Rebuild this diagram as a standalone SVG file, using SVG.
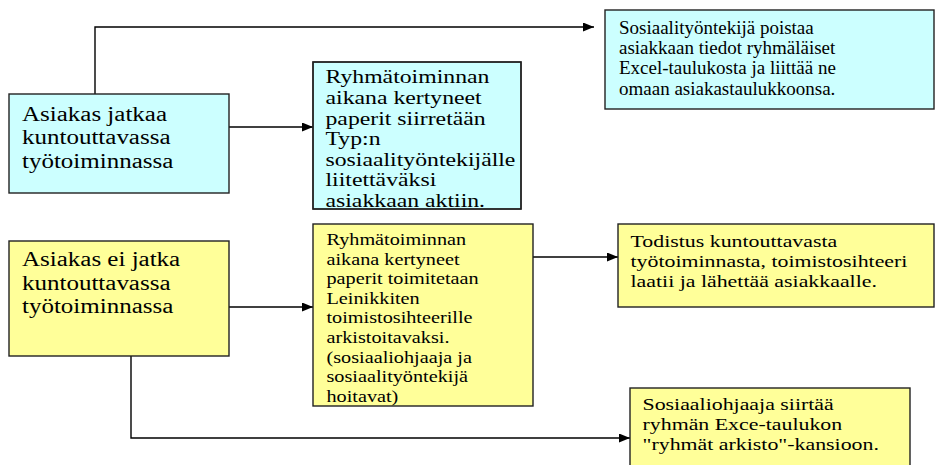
<svg xmlns="http://www.w3.org/2000/svg" width="935" height="465" viewBox="0 0 935 465">
<style>
.box{stroke:#222;stroke-width:1.4}
.cy{fill:#CCFFFF}
.ye{fill:#FFFF99}
.t{font-family:"Liberation Serif","Times New Roman",serif;fill:#000}
.c{fill:none;stroke:#000;stroke-width:1.4}
</style>
<defs>
<marker id="ah" markerUnits="userSpaceOnUse" markerWidth="12" markerHeight="10" refX="11" refY="4.5" orient="auto">
<path d="M0,0 L11,4.5 L0,9 z" fill="#000"/>
</marker>
<clipPath id="clipB"><rect x="313" y="62" width="208" height="147"/></clipPath>
</defs>
<rect width="935" height="465" fill="#fff"/>
<g id="connectors">
<path class="c" d="M95,94 V27 H594" marker-end="url(#ah)"/>
<path class="c" d="M229,127 H313" marker-end="url(#ah)"/>
<path class="c" d="M229,307 H313" marker-end="url(#ah)"/>
<path class="c" d="M533,257 H618" marker-end="url(#ah)"/>
<path class="c" d="M131,356 V438 H630" marker-end="url(#ah)"/>
</g>
<g id="nodeA">
<rect class="box cy" x="9" y="94" width="220" height="99"/>
<text class="t" font-size="20" transform="matrix(1.25 0 0 1 22 0)"><tspan x="0" y="121">Asiakas jatkaa</tspan><tspan x="0" y="144.5">kuntouttavassa</tspan><tspan x="0" y="168">työtoiminnassa</tspan></text>
</g>
<g id="nodeB">
<rect class="box cy" x="313" y="62" width="208" height="147"/>
<g clip-path="url(#clipB)">
<text class="t" font-size="18" transform="matrix(1.32 0 0 1 325.5 0)"><tspan x="0" y="83.5">Ryhmätoiminnan</tspan><tspan x="0" y="104">aikana kertyneet</tspan><tspan x="0" y="124.6">paperit siirretään</tspan><tspan x="0" y="145.2">Typ:n</tspan><tspan x="0" y="165.8">sosiaalityöntekijälle</tspan><tspan x="0" y="186.4">liitettäväksi</tspan><tspan x="0" y="207">asiakkaan aktiin.</tspan></text>
</g>
<rect x="313" y="62" width="208" height="147" fill="none" stroke="#222" stroke-width="1.4"/>
</g>
<g id="nodeC">
<rect class="box cy" x="605" y="10" width="329" height="99"/>
<text class="t" font-size="19" transform="matrix(1.0 0 0 1 619 0)"><tspan x="0" y="33.8">Sosiaalityöntekijä poistaa</tspan><tspan x="0" y="54.1">asiakkaan tiedot ryhmäläiset</tspan><tspan x="0" y="74.4">Excel-taulukosta ja liittää ne</tspan><tspan x="0" y="94.7">omaan asiakastaulukkoonsa.</tspan></text>
</g>
<g id="nodeD">
<rect class="box ye" x="9" y="241" width="220" height="115"/>
<text class="t" font-size="20" transform="matrix(1.25 0 0 1 22 0)"><tspan x="0" y="266">Asiakas ei jatka</tspan><tspan x="0" y="289.6">kuntouttavassa</tspan><tspan x="0" y="313.2">työtoiminnassa</tspan></text>
</g>
<g id="nodeE">
<rect class="box ye" x="313" y="224" width="220" height="182"/>
<text class="t" font-size="17" transform="matrix(1.19 0 0 1 326.5 0)"><tspan x="0" y="245">Ryhmätoiminnan</tspan><tspan x="0" y="264.6">aikana kertyneet</tspan><tspan x="0" y="284.2">paperit toimitetaan</tspan><tspan x="0" y="303.8">Leinikkiten</tspan><tspan x="0" y="323.4">toimistosihteerille</tspan><tspan x="0" y="343">arkistoitavaksi.</tspan><tspan x="0" y="362.6">(sosiaaliohjaaja ja</tspan><tspan x="0" y="382.2">sosiaalityöntekijä</tspan><tspan x="0" y="401.8">hoitavat)</tspan></text>
</g>
<g id="nodeF">
<rect class="box ye" x="618" y="224" width="316" height="83"/>
<text class="t" font-size="17.5" transform="matrix(1.25 0 0 1 630.5 0)"><tspan x="0" y="246.7">Todistus kuntouttavasta</tspan><tspan x="0" y="266.7">työtoiminnasta, toimistosihteeri</tspan><tspan x="0" y="286.7">laatii ja lähettää asiakkaalle.</tspan></text>
</g>
<g id="nodeG">
<rect class="box ye" x="630" y="388" width="280" height="90"/>
<text class="t" font-size="17.5" transform="matrix(1.25 0 0 1 642.5 0)"><tspan x="0" y="410">Sosiaaliohjaaja siirtää</tspan><tspan x="0" y="430">ryhmän Exce-taulukon</tspan><tspan x="0" y="450">"ryhmät arkisto"-kansioon.</tspan></text>
</g>
</svg>
